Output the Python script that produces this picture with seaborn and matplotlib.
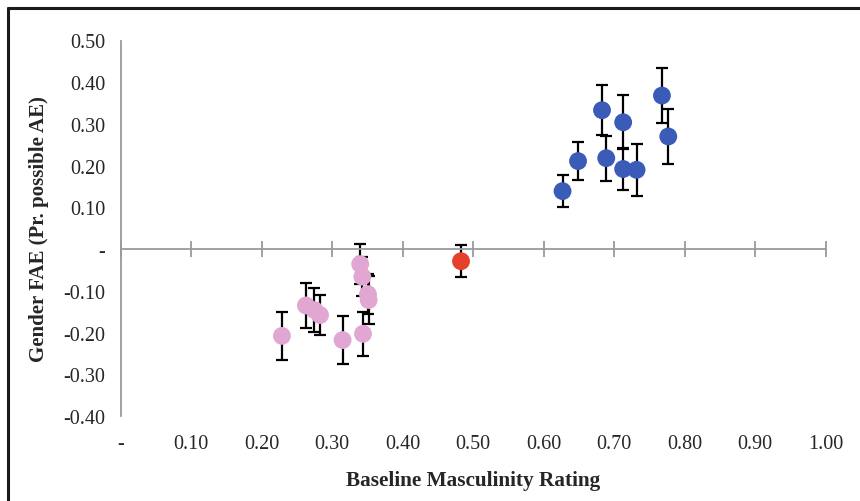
import numpy as np
import pandas as pd
import matplotlib
matplotlib.use("Agg")
import matplotlib.pyplot as plt
import seaborn as sns

# ---- data ----
pink_x = [0.229, 0.263, 0.275, 0.283, 0.315, 0.340, 0.343, 0.351, 0.352, 0.344]
pink_y = [-0.208, -0.135, -0.146, -0.158, -0.218, -0.036, -0.066, -0.108, -0.122, -0.203]
pink_err = [0.057, 0.053, 0.052, 0.049, 0.058, 0.048, 0.047, 0.048, 0.058, 0.053]

red_x = [0.483]
red_y = [-0.029]
red_err = [0.038]

blue_x = [0.627, 0.649, 0.683, 0.689, 0.713, 0.713, 0.732, 0.768, 0.777]
blue_y = [0.139, 0.211, 0.333, 0.218, 0.304, 0.192, 0.190, 0.368, 0.270]
blue_err = [0.038, 0.046, 0.060, 0.054, 0.065, 0.050, 0.062, 0.065, 0.067]

x_ticks = [0.0, 0.1, 0.2, 0.3, 0.4, 0.5, 0.6, 0.7, 0.8, 0.9, 1.0]
y_ticks = [-0.4, -0.3, -0.2, -0.1, 0.0, 0.1, 0.2, 0.3, 0.4, 0.5]

df = pd.DataFrame({
    'x': pink_x + red_x + blue_x,
    'y': pink_y + red_y + blue_y,
    'err': pink_err + red_err + blue_err,
    'grp': ['pink'] * len(pink_x) + ['red'] * len(red_x) + ['blue'] * len(blue_x),
})
colors = {'pink': '#E2A6D2', 'red': '#E5402B', 'blue': '#3A5BB8'}

sns.set_style('white')
plt.rcParams['font.family'] = ['Liberation Serif', 'DejaVu Serif']

fig = plt.figure(figsize=(8.6, 5.02), dpi=100)
ax = fig.add_axes([120.5 / 860, 85 / 502, 705 / 860, 375.5 / 502])

ax.errorbar(df['x'], df['y'], yerr=df['err'], fmt='none', ecolor='black',
            elinewidth=1.6, capsize=4.5, capthick=1.6, zorder=2)
sns.scatterplot(data=df, x='x', y='y', hue='grp', palette=colors, s=165,
                edgecolor='none', legend=False, ax=ax, zorder=3)

ax.set_xlim(0, 1.0)
ax.set_ylim(-0.4, 0.5)

def fmt(v):
    return '-' if abs(v) < 1e-9 else '%.2f' % v

# y axis
ax.set_yticks(y_ticks)
ax.set_yticklabels([fmt(v) for v in y_ticks], fontsize=14.5)
ax.tick_params(axis='y', left=False, length=0, pad=11)
ax.spines['left'].set_color('#9a9a9a')
ax.spines['left'].set_linewidth(1.3)
for s in ['top', 'right']:
    ax.spines[s].set_visible(False)

# x axis line through zero, tick labels kept at the bottom
ax.spines['bottom'].set_position(('data', 0))
ax.spines['bottom'].set_color('#9a9a9a')
ax.spines['bottom'].set_linewidth(1.3)
ax.set_xticks(x_ticks)
ax.tick_params(axis='x', bottom=True, direction='inout', length=12, width=1.3,
               color='#9a9a9a', labelbottom=False)

sec = ax.secondary_xaxis('bottom')
sec.set_xticks(x_ticks)
sec.set_xticklabels([fmt(v) for v in x_ticks], fontsize=14.5)
sec.tick_params(length=0, pad=13)
sec.spines['bottom'].set_visible(False)
sec.set_xlabel('Baseline Masculinity Rating', fontsize=15.3,
               fontweight='bold', labelpad=12)

ax.set_xlabel('')
ax.set_ylabel('Gender FAE (Pr. possible AE)', fontsize=15,
              fontweight='bold', labelpad=10)

# chart frame: only the top and left edges fall inside the picture
fig.add_artist(plt.Line2D([8 / 860, 1.0], [1 - 9 / 502, 1 - 9 / 502],
                          transform=fig.transFigure, color='#1a1a1a', linewidth=2.2))
fig.add_artist(plt.Line2D([8 / 860, 8 / 860], [0, 1 - 9 / 502],
                          transform=fig.transFigure, color='#1a1a1a', linewidth=2.2))

fig.savefig('out.png', dpi=100)
